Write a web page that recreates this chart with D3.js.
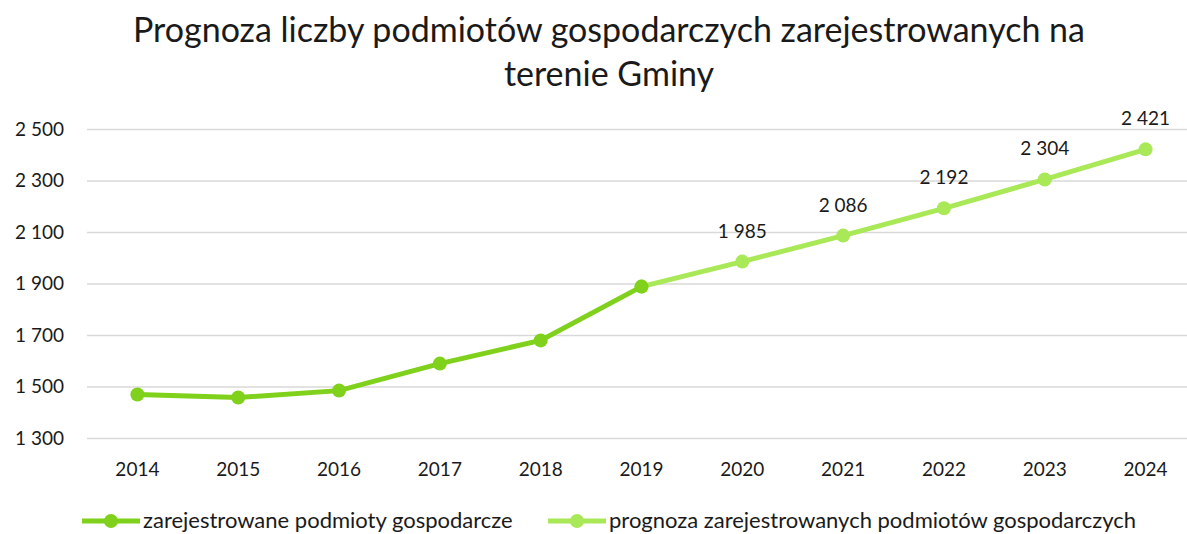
<!DOCTYPE html>
<html>
<head>
<meta charset="utf-8">
<script src="https://cdn.jsdelivr.net/npm/d3@7"></script>
<style>
  body { margin: 0; background: #fff; }
  svg text { font-family: Lato, "Open Sans", sans-serif; fill: #1a1a1a; }
  .grid line { stroke: #d9d9d9; stroke-width: 1.5; }
</style>
</head>
<body>
<div id="chart"></div>
<script>
var years = ["2014","2015","2016","2017","2018","2019","2020","2021","2022","2023","2024"];
var registeredYears = ["2014","2015","2016","2017","2018","2019"];
var registered = [1469, 1457, 1484, 1589, 1679, 1888];
var forecastYears = ["2019","2020","2021","2022","2023","2024"];
var forecast = [1888, 1985, 2086, 2192, 2304, 2421];
var yTicks = [1300, 1500, 1700, 1900, 2100, 2300, 2500];
var seriesNames = ["zarejestrowane podmioty gospodarcze", "prognoza zarejestrowanych podmiotów gospodarczych"];

var darkGreen = "#7fd11b";
var lightGreen = "#a9e857";

var width = 1187, height = 534;
var margin = {top: 129, right: 0, bottom: 96, left: 87};
var chartWidth = 1109;
var chartHeight = height - margin.top - margin.bottom;

var svg = d3.select("#chart").append("svg")
    .attr("width", width)
    .attr("height", height);

// title, two lines
svg.append("text")
    .attr("x", 609).attr("y", 42)
    .attr("text-anchor", "middle")
    .style("font-size", "34px")
    .text("Prognoza liczby podmiotów gospodarczych zarejestrowanych na");
svg.append("text")
    .attr("x", 609).attr("y", 86)
    .attr("text-anchor", "middle")
    .style("font-size", "34px")
    .text("terenie Gminy");

var g = svg.append("g")
    .attr("transform", `translate(${margin.left}, ${margin.top})`);

var xScale = d3.scaleBand()
    .domain(years)
    .range([0, chartWidth]);

var yScale = d3.scaleLinear()
    .domain([1300, 2500])
    .range([chartHeight, 0]);

var fmt = d => d3.format(",")(d).replace(/,/g, " ");

// gridlines
g.append("g")
    .attr("class", "grid")
    .call(d3.axisLeft(yScale).tickValues(yTicks).tickSize(-chartWidth).tickFormat(""))
    .call(a => a.select(".domain").remove());

// y labels
g.append("g")
    .call(d3.axisLeft(yScale).tickValues(yTicks).tickSize(0).tickPadding(23).tickFormat(fmt))
    .call(a => a.select(".domain").remove())
    .selectAll("text")
    .style("font-size", "19px");

// x labels
g.append("g")
    .attr("transform", `translate(0,${chartHeight})`)
    .call(d3.axisBottom(xScale).tickSize(0).tickPadding(25))
    .call(a => a.select(".domain").remove())
    .selectAll("text")
    .style("font-size", "19px");

var cx = d => xScale(d) + xScale.bandwidth() / 2;

var line = d3.line()
    .x(d => cx(d[0]))
    .y(d => yScale(d[1]));

var fData = forecastYears.map((y, i) => [y, forecast[i]]);
var rData = registeredYears.map((y, i) => [y, registered[i]]);

g.append("path")
    .datum(fData)
    .attr("fill", "none")
    .attr("stroke", lightGreen)
    .attr("stroke-width", 5)
    .attr("d", line);

g.selectAll(".fdot")
    .data(fData)
    .enter()
    .append("circle")
    .attr("cx", d => cx(d[0]))
    .attr("cy", d => yScale(d[1]))
    .attr("r", 7)
    .attr("fill", lightGreen);

// data labels only for forecast years after 2019
g.selectAll(".flabel")
    .data(fData.slice(1))
    .enter()
    .append("text")
    .attr("x", d => cx(d[0]))
    .attr("y", d => yScale(d[1]) - 24)
    .attr("text-anchor", "middle")
    .style("font-size", "19px")
    .text(d => fmt(d[1]));

g.append("path")
    .datum(rData)
    .attr("fill", "none")
    .attr("stroke", darkGreen)
    .attr("stroke-width", 5)
    .attr("d", line);

g.selectAll(".rdot")
    .data(rData)
    .enter()
    .append("circle")
    .attr("cx", d => cx(d[0]))
    .attr("cy", d => yScale(d[1]))
    .attr("r", 7)
    .attr("fill", darkGreen);

// legend
var legend = [
  {name: seriesNames[0], color: darkGreen, x: 82},
  {name: seriesNames[1], color: lightGreen, x: 548}
];
var lg = svg.selectAll(".legend")
    .data(legend)
    .enter()
    .append("g")
    .attr("transform", d => `translate(${d.x}, 521)`);
lg.append("line")
    .attr("x1", 0).attr("x2", 58)
    .attr("stroke", d => d.color)
    .attr("stroke-width", 5);
lg.append("circle")
    .attr("cx", 29).attr("r", 7)
    .attr("fill", d => d.color);
lg.append("text")
    .attr("x", 61).attr("y", 7)
    .style("font-size", "22px")
    .text(d => d.name);
</script>
</body>
</html>
